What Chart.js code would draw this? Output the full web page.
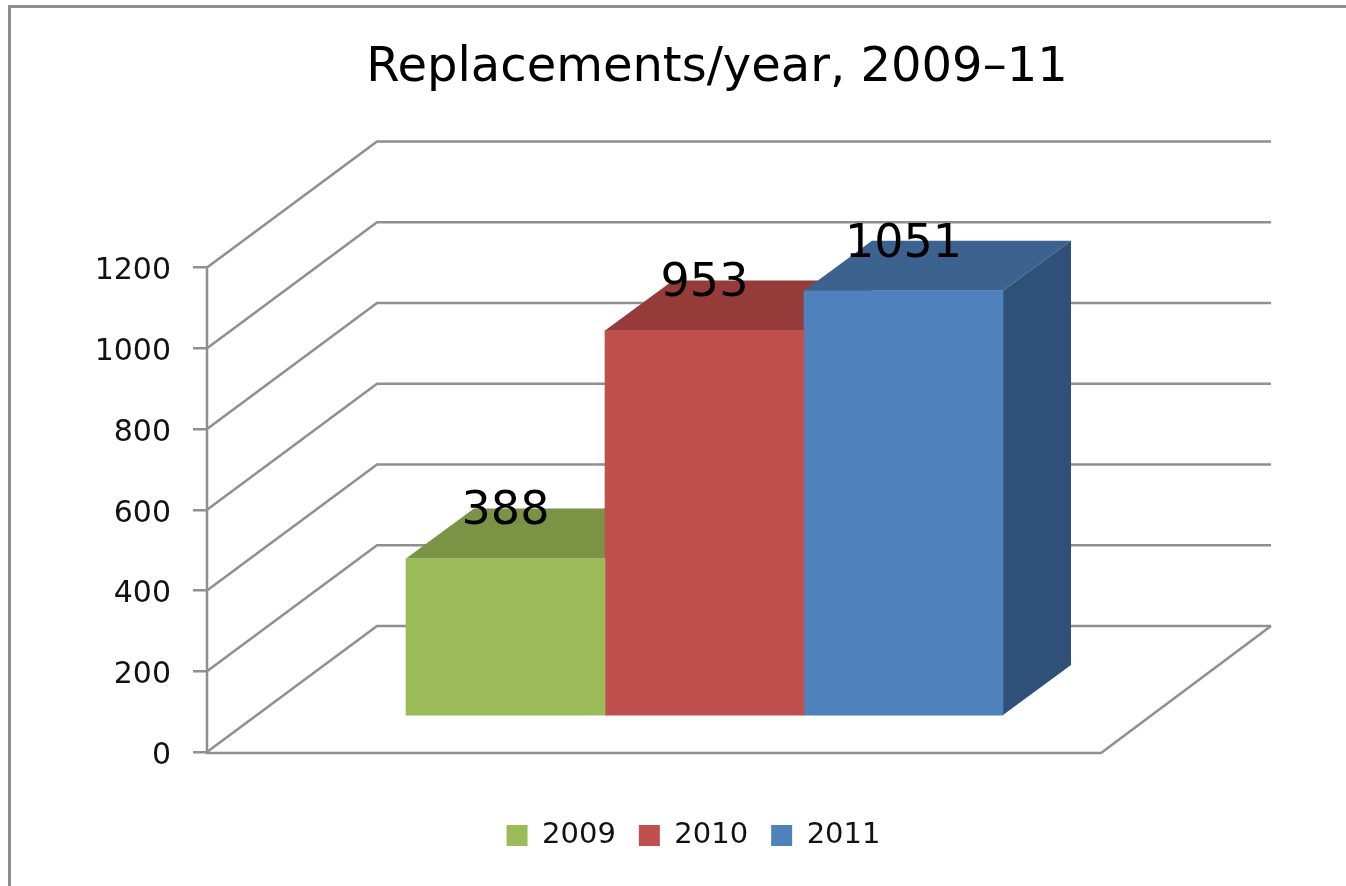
<!DOCTYPE html>
<html><head><meta charset="utf-8">
<style>html,body{margin:0;padding:0;background:#fff;overflow:hidden}canvas{display:block;filter:blur(.5px)}</style>
<script src="https://cdn.jsdelivr.net/npm/chart.js@4"></script>
</head><body><canvas id="c" width="1346" height="886"></canvas>
<script>
const titleText = 'Replacements/year, 2009–11';
const categories = ['2009','2010','2011'];
const values = [388,953,1051];
const yTickValues = [0,200,400,600,800,1000,1200];
const frontColors = ['#9BBB59','#C0504D','#4F81BD'];
const topColors = ['#7A9344','#953C3A','#3C6290'];
const sideColors = ['#5F7434','#7A302E','#2F5078'];

const GRID = '#8f8f8f', FONT = '"DejaVu Sans", Verdana, sans-serif';
const wallDX = 170, wallDY = 126;      // depth of the box
const barDX = 68, barDY = 50;          // depth of a bar
const floorInset = 37;                 // bars sit this far up the floor
const barW = 199;
const L = 207, R = 1271, T = 140, B = 752;
const yMax = 1200 * (B - T) / (B - T - wallDY);
const barMin = -floorInset * yMax / (B - T);
const xUnits = (R - L) / barW;

const box3d = {
  id: 'box3d',
  afterLayout(chart) {
    chart.titleBlock.left += 81.5; chart.titleBlock.right += 81.5;
    chart.legend.left += 58; chart.legend.right += 58;
    chart.legend.legendHitBoxes.forEach(h => { h.left += 58; });
  },
  beforeDraw(chart) {
    const c = chart.ctx;
    c.save();
    c.strokeStyle = '#8c8c8c'; c.lineWidth = 3;
    c.beginPath(); c.moveTo(9.5, 886); c.lineTo(9.5, 6.5); c.lineTo(1346, 6.5); c.stroke();
    c.restore();
  },
  beforeDatasetsDraw(chart) {
    const c = chart.ctx, y = chart.scales.y, a = chart.chartArea;
    const left = a.left, right = a.right;
    c.save();
    c.strokeStyle = GRID; c.lineWidth = 2.5; c.lineJoin = 'miter';
    yTickValues.forEach(v => {
      const p = y.getPixelForValue(v);
      c.beginPath();
      c.moveTo(left, p); c.lineTo(left + wallDX, p - wallDY); c.lineTo(right, p - wallDY);
      c.stroke();
    });
    const y0 = y.getPixelForValue(0), y1 = y.getPixelForValue(yTickValues[yTickValues.length - 1]);
    c.beginPath(); c.moveTo(left, y1); c.lineTo(left, y0 + 1);
    c.lineTo(right - wallDX, y0 + 1); c.lineTo(right, y0 - wallDY);
    c.stroke();
    chart.data.datasets.forEach((d, i) => {
      const el = chart.getDatasetMeta(i).data[0];
      const x0 = el.x - el.width / 2, x1 = el.x + el.width / 2;
      c.fillStyle = topColors[i];
      c.beginPath(); c.moveTo(x0, el.y); c.lineTo(x1, el.y);
      c.lineTo(x1 + barDX, el.y - barDY); c.lineTo(x0 + barDX, el.y - barDY); c.closePath(); c.fill();
      c.fillStyle = sideColors[i];
      c.beginPath(); c.moveTo(x1, el.y); c.lineTo(x1 + barDX, el.y - barDY);
      c.lineTo(x1 + barDX, el.base - barDY); c.lineTo(x1, el.base); c.closePath(); c.fill();
    });
    c.restore();
  },
  afterDatasetsDraw(chart) {
    const c = chart.ctx;
    c.save();
    c.fillStyle = '#000'; c.font = '46px ' + FONT; c.textAlign = 'center'; c.textBaseline = 'middle';
    values.forEach((v, i) => {
      const el = chart.getDatasetMeta(i).data[0];
      c.fillText(String(v), el.x, el.y - 46);
    });
    c.restore();
  }
};

new Chart(document.getElementById('c'), {
  type: 'bar',
  data: {
    datasets: categories.map((name, i) => ({
      label: name,
      data: [{ x: i, y: values[i] }],
      backgroundColor: frontColors[i],
      xAxisID: 'xBars', yAxisID: 'yBars',
      barThickness: barW, grouped: false, borderWidth: 0
    }))
  },
  options: {
    responsive: false, animation: false,
    layout: { autoPadding: false, padding: { left: 0, right: 1346 - R, top: 40, bottom: 26 } },
    plugins: {
      tooltip: { enabled: false },
      title: { display: true, text: titleText, color: '#000',
        font: { family: FONT, size: 48, weight: 'normal' }, padding: { top: 0, bottom: 44.4 } },
      legend: { position: 'bottom',
        labels: { color: '#111', boxWidth: 21, boxHeight: 21, padding: 23,
          font: { family: FONT, size: 29 } } }
    },
    scales: {
      y: { type: 'linear', position: 'left', min: 0, max: yMax,
        afterFit(s) { s.width = L; },
        afterBuildTicks(s) { s.ticks = yTickValues.map(value => ({ value })); },
        border: { display: false },
        grid: { drawOnChartArea: false, drawTicks: true, tickLength: 14, color: GRID, lineWidth: 2.5 },
        ticks: { color: '#111', padding: 22, labelOffset: 4, font: { family: FONT, size: 30 }, callback: v => String(v) } },
      yBars: { type: 'linear', display: false, min: barMin, max: barMin + yMax },
      xBars: { type: 'linear', position: 'bottom', offset: false, min: -1.5, max: xUnits - 1.5,
        afterFit(s) { s.height = 46; },
        border: { display: false }, grid: { display: false }, ticks: { display: false } }
    }
  },
  plugins: [box3d]
});
</script></body></html>
